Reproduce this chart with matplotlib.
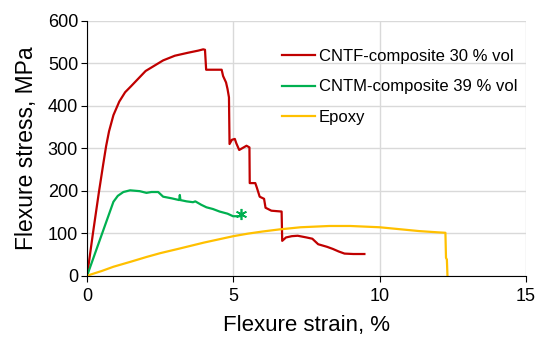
import matplotlib.pyplot as plt

plt.rcParams['font.family'] = ['Liberation Sans', 'DejaVu Sans']

# CNTF-composite 30 % vol
cntf_strain = [0, 0.2, 0.4, 0.55, 0.65, 0.75, 0.9, 1.1, 1.3, 1.5, 2.0, 2.6, 3.0, 3.45, 3.8, 3.97,
               4.03, 4.07, 4.6, 4.65, 4.75, 4.8, 4.85, 4.87, 4.95, 5.05, 5.1, 5.2, 5.3, 5.45, 5.55,
               5.56, 5.75, 5.8, 5.9, 6.05, 6.1, 6.3, 6.65, 6.67, 6.8, 7.0, 7.2, 7.5, 7.7, 7.9,
               8.2, 8.4, 8.6, 8.8, 9.1, 9.48]
cntf_stress = [0, 100, 195, 262, 305, 340, 378, 410, 432, 446, 482, 507, 518, 525, 530, 533,
               532, 485, 485, 470, 455, 440, 420, 310, 320, 322, 312, 296, 300, 306, 302,
               218, 218, 208, 186, 181, 160, 153, 151, 82, 90, 93, 94, 90, 87, 74,
               68, 63, 57, 52, 51, 51]

# CNTM-composite 39 % vol
cntm_strain = [0, 0.3, 0.6, 0.9, 1.05, 1.24, 1.47, 1.8, 2.03, 2.2, 2.43, 2.6, 2.9, 3.15, 3.17,
               3.19, 3.4, 3.62, 3.7, 3.9, 4.08, 4.3, 4.53, 4.8, 4.99, 5.22]
cntm_stress = [0, 58, 116, 174, 188, 197, 201, 199, 195, 197, 197, 186, 182, 178, 190,
               178, 175, 173, 175, 167, 161, 157, 151, 146, 140, 140]

# Epoxy
epoxy_strain = [0, 0.5, 0.9, 1.5, 2.03, 2.5, 3.17, 4.0, 5.0, 5.5, 6.0, 6.58, 7.3, 8.28, 9.0,
                10.0, 10.6, 11.35, 12.0, 12.25, 12.27, 12.3, 12.32]
epoxy_stress = [0, 11, 21, 33, 44, 53, 64, 78, 93, 99, 104, 109, 114, 117, 117,
                114, 110, 105, 102, 101, 42, 38, 0]

fig = plt.figure(figsize=(5.41, 3.37), dpi=100)
ax = fig.add_axes([0.161, 0.182, 0.811, 0.756])

ax.plot(cntf_strain, cntf_stress, color='#C00000', lw=1.6, label='CNTF-composite 30 % vol')
ax.plot(cntm_strain, cntm_stress, color='#00B050', lw=1.6, label='CNTM-composite 39 % vol')
ax.plot(epoxy_strain, epoxy_stress, color='#FFC000', lw=1.6, label='Epoxy')
ax.plot([cntm_strain[-1] + 0.03], [146], color='#00B050', marker=(6, 2, 0), ms=8, mew=1.2, ls='none')

ax.set_xlim(0, 15)
ax.set_ylim(0, 600)
ax.set_xticks([0, 5, 10, 15])
ax.set_yticks(range(0, 601, 100))
ax.grid(True, color='#D9D9D9', lw=1)
ax.set_axisbelow(True)
for s in ['top', 'right']:
    ax.spines[s].set_visible(False)
ax.tick_params(labelsize=13, direction='out', length=4, pad=2.5)
ax.tick_params(axis='x', pad=5)
ax.set_xlabel('Flexure strain, %', fontsize=16, labelpad=7)
ax.set_ylabel('Flexure stress, MPa', fontsize=16.5, labelpad=7)

ax.legend(loc='upper left', bbox_to_anchor=(0.41, 0.95), frameon=False, fontsize=12,
          handlelength=2.0, handletextpad=0.2, labelspacing=0.95)

fig.savefig('out.png', dpi=100)
